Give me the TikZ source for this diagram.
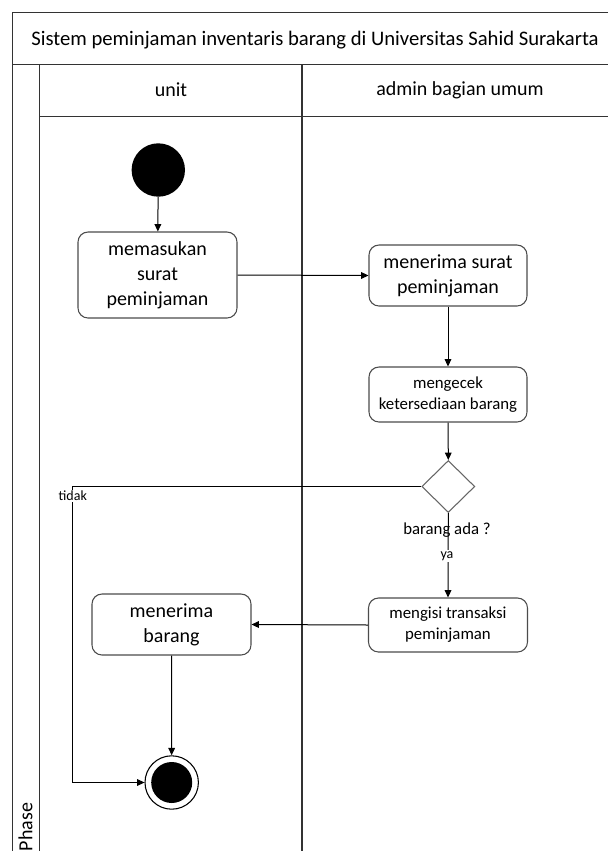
\documentclass[tikz,border=0pt]{standalone}
\usepackage{fontspec}
\setmainfont{Carlito}
\usetikzlibrary{shapes.geometric,arrows.meta}
\newdimen\unitpx
\unitpx=0.75pt
\tikzset{
  frame/.style={draw=black!80, line width=1.1pt},
  actbox/.style={draw=black!70, line width=0.8pt, rounded corners=7.5pt, align=center,
    inner sep=0pt, font=\fontsize{15}{18.75}\selectfont},
  smallbox/.style={actbox, font=\fontsize{12.6}{15.75}\selectfont},
  arr/.style={draw=black, line width=0.75pt, -{Triangle[length=5.5pt,width=5pt]}},
  lane/.style={font=\fontsize{15}{18}\selectfont},
  lbl/.style={font=\fontsize{10.5}{12}\selectfont, inner sep=1pt},
}
\begin{document}
\begin{tikzpicture}[x=0.75pt,y=-0.75pt]
\useasboundingbox (0,0) rectangle (608,851);
\fill[white] (0,0) rectangle (608,851);
% frame
\draw[frame] (608,12.7) -- (12.7,12.7) -- (12.7,851);
\draw[frame] (12.7,64.3) -- (608,64.3);
\draw[frame] (39.3,64.3) -- (39.3,851);
\draw[frame] (39.3,116.7) -- (608,116.7);
\draw[frame] (302,64.3) -- (302,851);
\node[lane, font=\fontsize{15.5}{18}\selectfont] (title) at (315,40) {Sistem peminjaman inventaris barang di Universitas Sahid Surakarta};
\node[lane] (unit) at (171,90) {unit};
\node[lane] (admin) at (460,90) {admin bagian umum};
\node[lane, rotate=90] (phase) at (25.5,827) {Phase};
% nodes
\node[circle, fill=black, minimum size=53.4\unitpx, inner sep=0pt] (start) at (158.3,170) {};
\node[actbox, minimum width=159\unitpx, minimum height=86\unitpx] (b1) at (157.5,275) {memasukan\\surat\\peminjaman};
\node[actbox, minimum width=158\unitpx, minimum height=61\unitpx] (b2) at (448,275.5) {menerima surat\\peminjaman};
\node[smallbox, minimum width=158\unitpx, minimum height=55\unitpx] (b3) at (448,394.5) {mengecek\\ketersediaan barang};
\node[diamond, draw=black!60, line width=0.8pt, minimum width=53\unitpx, minimum height=52\unitpx, inner sep=0pt] (d) at (448.3,486.5) {};
\node[smallbox, minimum width=159\unitpx, minimum height=54\unitpx] (b4) at (448,625) {mengisi transaksi\\peminjaman};
\node[actbox, minimum width=159\unitpx, minimum height=61\unitpx] (b5) at (171.5,624.5) {menerima\\barang};
\node[circle, draw=black, line width=0.8pt, minimum size=53.4\unitpx, inner sep=0pt] (end) at (171.7,782.5) {};
\node[circle, fill=black, minimum size=41\unitpx, inner sep=0pt] (endin) at (end.center) {};
\coordinate (tk) at (72.3,486.5);
% edges
\draw[arr] (start) -- (b1);
\draw[arr] (b1.east) -- (b2.west);
\draw[arr] (b2) -- (b3);
\draw[arr] (b3) -- (d.north);
\draw[arr] (d.west) -- (tk) |- (end.west);
\node[lbl, fill=white] (tidak) at (72.8,496) {tidak};
\draw[arr] (d.south) -- (b4.north);
\node[font=\fontsize{12.6}{14}\selectfont, inner sep=0pt] (ada) at (447,530) {barang ada ?};
\node[lbl, fill=white] (ya) at (447,556) {ya};
\draw[arr] (b4.west) -- (b5.east);
\draw[arr] (b5) -- (end);
\end{tikzpicture}
\end{document}
